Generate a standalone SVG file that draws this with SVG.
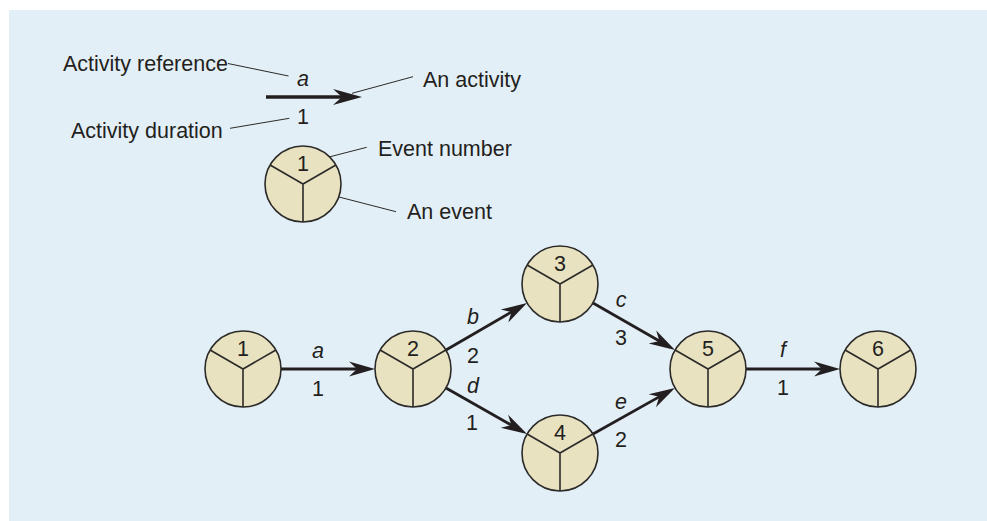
<svg xmlns="http://www.w3.org/2000/svg" width="987" height="521" viewBox="0 0 987 521">
<style>
  text { font-family: "Liberation Sans", Arial, sans-serif; font-size: 21.5px; fill: #231f20; }
  .it { font-style: italic; }
  .mid { text-anchor: middle; }
  .ev { fill: #e8e2c0; stroke: #2b2a29; stroke-width: 1.6; }
  .yl { stroke: #2b2a29; stroke-width: 1.6; fill: none; }
  .act { stroke: #231f20; stroke-width: 2.8; fill: none; marker-end: url(#ah); }
  .lead { stroke: #2b2a29; stroke-width: 1; fill: none; }
</style>
<defs>
  <marker id="ah" markerUnits="userSpaceOnUse" viewBox="-27 -9 28 18" refX="-12" refY="0" markerWidth="28" markerHeight="18" orient="auto">
    <path d="M0,0 L-26,-7.5 L-18,0 L-26,7.5 Z" fill="#231f20"/>
  </marker>
  <marker id="ahL" markerUnits="userSpaceOnUse" viewBox="-30 -9 31 18" refX="-12" refY="0" markerWidth="31" markerHeight="18" orient="auto">
    <path d="M0,0 L-29,-8 L-20,0 L-29,8 Z" fill="#231f20"/>
  </marker>
  <g id="evt">
    <circle class="ev" cx="0" cy="0" r="38"/>
    <path class="yl" d="M-32.9,-19 L0,0 L32.9,-19 M0,0 L0,38"/>
  </g>
</defs>
<rect x="9" y="10" width="978" height="511" fill="#e3eff6"/>

<g id="legend">
  <line x1="266" y1="97" x2="350" y2="97" stroke="#231f20" stroke-width="3.4" marker-end="url(#ahL)"/>
  <text class="it mid" x="303" y="86">a</text>
  <text class="mid" x="303" y="124">1</text>
  <text x="63" y="71">Activity reference</text>
  <text x="423" y="87">An activity</text>
  <text x="71" y="138">Activity duration</text>
  <text x="378" y="156">Event number</text>
  <text x="407" y="219">An event</text>
  <path class="lead" d="M228,63.5 L288.5,76 M413,76.7 L352,93.3 M230,128.3 L289.3,118.3 M366.7,147.3 L320,159.3 M396,211.7 L327.3,194"/>
  <g id="legend-event">
    <use href="#evt" x="303" y="184"/>
    <text class="mid" x="303" y="171">1</text>
  </g>
</g>

<g id="connectors">
  <line class="act" x1="281" y1="369" x2="363" y2="369"/>
  <line class="act" x1="446" y1="350" x2="516.6" y2="309"/>
  <line class="act" x1="593" y1="303" x2="664.6" y2="344"/>
  <line class="act" x1="446" y1="388" x2="516.6" y2="428.1"/>
  <line class="act" x1="593" y1="434" x2="664.5" y2="393.9"/>
  <line class="act" x1="746" y1="369" x2="828" y2="369"/>
  <text class="it mid" x="318" y="358">a</text>
  <text class="mid" x="318" y="396">1</text>
  <text class="it mid" x="473" y="324">b</text>
  <text class="mid" x="473" y="363">2</text>
  <text class="it mid" x="473" y="393">d</text>
  <text class="mid" x="472" y="430">1</text>
  <text class="it mid" x="621" y="307">c</text>
  <text class="mid" x="621" y="345">3</text>
  <text class="it mid" x="621" y="409">e</text>
  <text class="mid" x="621" y="447">2</text>
  <text class="it mid" x="783" y="357">f</text>
  <text class="mid" x="783" y="395">1</text>
</g>

<g id="node1"><use href="#evt" x="243" y="369"/><text class="mid" x="243" y="356">1</text></g>
<g id="node2"><use href="#evt" x="413" y="369"/><text class="mid" x="413" y="356">2</text></g>
<g id="node3"><use href="#evt" x="560" y="284"/><text class="mid" x="560" y="271">3</text></g>
<g id="node4"><use href="#evt" x="560" y="453"/><text class="mid" x="560" y="440">4</text></g>
<g id="node5"><use href="#evt" x="708" y="369"/><text class="mid" x="708" y="356">5</text></g>
<g id="node6"><use href="#evt" x="878" y="369"/><text class="mid" x="878" y="356">6</text></g>
</svg>
